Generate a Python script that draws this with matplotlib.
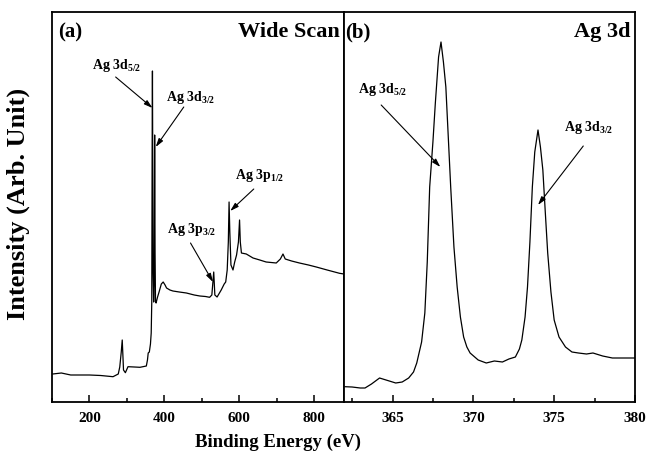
import numpy as np
import matplotlib
matplotlib.use('Agg')
import matplotlib.pyplot as plt
from matplotlib.ticker import MultipleLocator

plt.rcParams['font.family'] = 'Liberation Serif'
plt.rcParams['font.weight'] = 'bold'
plt.rcParams['mathtext.fontset'] = 'custom'
plt.rcParams['mathtext.rm'] = 'Liberation Serif:bold'
plt.rcParams['mathtext.default'] = 'rm'

# (a) wide scan
wide_energy = [102, 125, 150, 200, 230, 263, 277, 281, 285, 287.6, 289, 291, 296, 303, 320, 335,
               352, 355, 357, 360, 363, 365, 366.5, 367.5, 368.3, 369, 370, 371.5, 373, 374.2,
               375.3, 376.5, 378, 382, 386, 392, 397, 402, 406, 415, 423, 440, 459, 480, 495,
               510, 521, 527, 532, 535, 541, 552, 560, 564, 568, 571, 573, 575, 578, 583.5, 588,
               593, 598, 601, 603, 606, 619, 637, 655, 672, 699, 710, 717, 723, 740, 761, 785,
               806, 835, 868, 880]
wide_counts = [28, 29, 27, 27, 26.5, 25.3, 28, 35, 50, 62, 50, 32, 29.3, 35.3, 35, 34.7,
               36, 42, 49, 50, 58, 69, 100, 250, 331, 250, 130, 100, 120, 267,
               150, 100, 99, 105, 110, 118, 120, 117, 114, 112, 111, 110, 109, 107, 106,
               105.5, 104.7, 107, 130, 107, 105, 112, 118, 120, 132, 160, 200, 170, 137, 132, 140,
               147, 160, 182, 160, 149, 148, 144, 142, 140, 139, 143, 148, 143, 141, 139, 137,
               135, 132, 128.7, 128]

# (b) Ag 3d high resolution
ag3d_energy = [362.06, 362.5, 363.0, 363.3, 363.7, 364.2, 364.6, 365.2, 365.6, 366.0, 366.3, 366.5,
               366.8, 367.0, 367.15, 367.3, 367.5, 367.65, 367.85, 368.0, 368.15, 368.3, 368.45,
               368.6, 368.8, 369.0, 369.2, 369.4, 369.6, 369.8, 370.3, 370.8, 371.3, 371.8, 372.2,
               372.6, 372.85, 373.0, 373.2, 373.35, 373.5, 373.65, 373.8, 374.0, 374.15, 374.3,
               374.45, 374.6, 374.8, 375.0, 375.3, 375.7, 376.1, 376.5, 377.0, 377.4, 378.0,
               378.6, 379.3, 380.0]
ag3d_counts = [15.3, 15, 14, 14, 18, 24, 22, 19, 20, 24, 30, 39,
               60, 89, 140, 215, 260, 299, 345, 360, 340, 315, 265,
               215, 155, 115, 85, 65, 55, 49, 42, 39, 41, 40, 43,
               45, 53, 62, 85, 115, 160, 215, 250, 272, 255, 232,
               190, 149, 110, 82, 65, 55, 50, 49, 48, 49, 46,
               44, 44, 44]

W, H = 647, 451
fig = plt.figure(figsize=(W / 100, H / 100), dpi=100)
ax1 = fig.add_axes([52 / W, 1 - 402 / H, 292 / W, 390 / H])
ax2 = fig.add_axes([344 / W, 1 - 402 / H, 291 / W, 390 / H])

ax1.plot(wide_energy, wide_counts, color='black', lw=0.9)
ax2.plot(ag3d_energy, ag3d_counts, color='black', lw=0.9)

ax1.set_xlim(100, 880)
ax2.set_xlim(362, 380)
ax1.xaxis.set_major_locator(MultipleLocator(200))
ax1.xaxis.set_minor_locator(MultipleLocator(100))
ax2.xaxis.set_major_locator(MultipleLocator(5))
ax2.xaxis.set_minor_locator(MultipleLocator(2.5))

for ax in (ax1, ax2):
    ax.set_ylim(0, 390)
    ax.set_yticks([])
    ax.tick_params(axis='x', which='both', direction='in', top=False, labelsize=11, pad=7, width=1.1)
    ax.tick_params(axis='x', which='major', length=5)
    ax.tick_params(axis='x', which='minor', length=3)
    for s in ax.spines.values():
        s.set_linewidth(1.3)

ax1.set_xticks([200, 400, 600, 800])
ax2.set_xticks([365, 370, 375, 380])

ax1.text(0.02, 0.948, '(a)', transform=ax1.transAxes, fontsize=15, ha='left', va='center')
ax1.text(0.985, 0.948, 'Wide Scan', transform=ax1.transAxes, fontsize=16, ha='right', va='center')
ax2.text(0.005, 0.948, '(b)', transform=ax2.transAxes, fontsize=15, ha='left', va='center')
ax2.text(0.985, 0.948, 'Ag 3d', transform=ax2.transAxes, fontsize=16, ha='right', va='center')

arrow = dict(arrowstyle='-|>,head_length=0.5,head_width=0.15', color='black', lw=0.8, shrinkA=0, shrinkB=0)

# label, text position, arrow start, arrow end
labels_a = [
    (r'Ag 3d$_{5/2}$', (273, 337), (270, 325), (368.5, 294)),
    (r'Ag 3d$_{3/2}$', (471, 305), (452, 295), (377, 255)),
    (r'Ag 3p$_{1/2}$', (655, 227), (639, 213), (576, 191)),
    (r'Ag 3p$_{3/2}$', (473, 172), (470, 159), (530, 120)),
]
labels_b = [
    (r'Ag 3d$_{5/2}$', (364.4, 312), (364.3, 297), (367.96, 235)),
    (r'Ag 3d$_{3/2}$', (377.1, 275), (376.8, 256), (374.0, 197)),
]
for ax, labels in ((ax1, labels_a), (ax2, labels_b)):
    for txt, tpos, start, end in labels:
        ax.text(tpos[0], tpos[1], txt, fontsize=10, ha='center', va='center')
        ax.annotate('', xy=end, xytext=start, arrowprops=arrow)

fig.text(18 / W, 1 - 204 / H, 'Intensity (Arb. Unit)', fontsize=19, fontweight='bold',
         rotation=90, ha='center', va='center')
fig.text(278 / W, 1 - 442 / H, 'Binding Energy (eV)', fontsize=13.5, fontweight='bold',
         ha='center', va='center')

fig.savefig('out.png', dpi=100)
